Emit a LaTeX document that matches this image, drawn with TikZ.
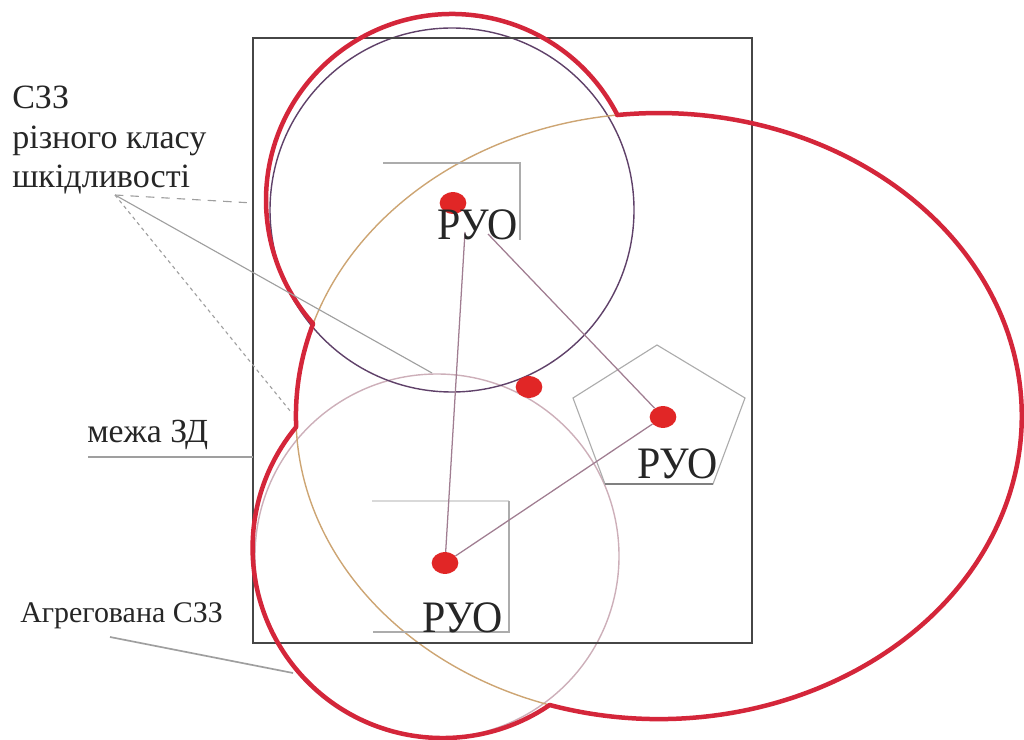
\documentclass[tikz,border=0pt]{standalone}
\usepackage{fontspec}
\setmainfont{Liberation Serif}
\newfontfamily\ruofont[FakeStretch=0.93]{Liberation Serif}
\usetikzlibrary{shapes.geometric}

\definecolor{aggred}{RGB}{212,38,58}
\definecolor{dotred}{RGB}{225,38,38}
\definecolor{zdgrey}{RGB}{70,70,70}
\definecolor{violetgrey}{RGB}{95,65,105}
\definecolor{pinkgrey}{RGB}{205,175,185}
\definecolor{tanline}{RGB}{205,165,115}
\definecolor{linkgrey}{RGB}{160,125,145}

\begin{document}
\begin{tikzpicture}[
  x=0.025cm, y=-0.025cm,
  zone/.style={draw=zdgrey,line width=1.3pt},
  aggr/.style={draw=aggred,line width=3.2pt,line join=round},
  szz/.style={line width=1pt},
  src/.style={ellipse,fill=dotred,inner sep=0pt,minimum width=19pt,minimum height=15.5pt},
  ruo/.style={font=\ruofont\fontsize{32}{32}\selectfont,inner sep=0pt,anchor=base west,text=black!85},
  lbl/.style={inner sep=0pt,anchor=base west,text=black!85},
  lead/.style={draw=gray!75,line width=0.8pt},
  link/.style={draw=linkgrey,line width=0.9pt},
  bracket/.style={draw=gray!65,line width=0.8pt}
]
  \useasboundingbox (0,0) rectangle (1024,740);

  % СЗЗ of single sources
  \draw[szz,draw=pinkgrey] (437,556) circle[radius=182];
  \draw[szz,draw=violetgrey] (452,210) circle[radius=182];
  \draw[szz,draw=tanline] (659,416) ellipse[x radius=363,y radius=303];

  % source outlines
  \draw[bracket] (657,345) -- (745,398) -- (713,484) -- (605,484) -- (573,398) -- cycle;
  \draw[bracket,draw=gray] (605,484) -- (713,484);
  \draw[bracket] (383,163) -- (520,163) -- (520,240);
  \draw[bracket,line width=1.5pt,draw=gray!30] (372,501) -- (509,501);
  \draw[bracket] (509,501) -- (509,632) -- (373,632);

  % zone of activity
  \draw[zone] (253,38) rectangle (752,643);
  \coordinate (zdw) at (253,203);
  \coordinate (zdm) at (253,457);

  % sources
  \node[src] (s1) at (453,203) {};
  \node[src] (s2) at (529,387) {};
  \node[src] (s3) at (663,417) {};
  \node[src] (s4) at (445,563) {};
  \coordinate (t1) at (465,232);
  \coordinate (t2) at (488,234);
  \draw[link] (t1) -- (s4);
  \draw[link] (t2) -- (s3);
  \draw[link] (s4) -- (s3);

  % aggregated СЗЗ
  \draw[aggr] (452,200) ++(-27.5:186)
    arc[start angle=-27.5,end angle=-221.7,radius=186]
    arc[start angle=197.7,end angle=177.9,x radius=363,y radius=303]
    arc[start angle=219.6,end angle=55.7,radius=190]
    arc[start angle=107.5,end angle=-96.6,x radius=363,y radius=303] -- cycle;

  \node[ruo] (r1) at (437,240) {РУО};
  \node[ruo] (r3) at (637,478) {РУО};
  \node[ruo] (r4) at (422,632) {РУО};

  % labels
  \node[lbl,anchor=north west,align=left,font=\fontsize{24.2}{28}\selectfont] (szzlbl) at (12,86)
    {СЗЗ\\різного класу\\шкідливості};
  \node[lbl,font=\fontsize{24}{24}\selectfont] (mezha) at (87,443) {межа ЗД};
  \node[lbl,font=\fontsize{21.3}{21.3}\selectfont] (aggrlbl) at (20,622) {Агрегована СЗЗ};
  \coordinate (lead0) at (115,195);
  \coordinate (szzb) at (432,373);
  \coordinate (szze) at (291,412);
  \coordinate (mezha0) at (88,457);
  \coordinate (aggr0) at (110,637);
  \coordinate (aggr1) at (293,673);
  \draw[lead,dashed,dash pattern=on 6pt off 5pt] (lead0) -- (zdw);
  \draw[lead] (lead0) -- (szzb);
  \draw[lead,dash pattern=on 2.5pt off 2.5pt] (lead0) -- (szze);
  \draw[lead] (mezha0) -- (zdm);
  \draw[lead,line width=1.2pt] (aggr0) -- (aggr1);
\end{tikzpicture}
\end{document}
